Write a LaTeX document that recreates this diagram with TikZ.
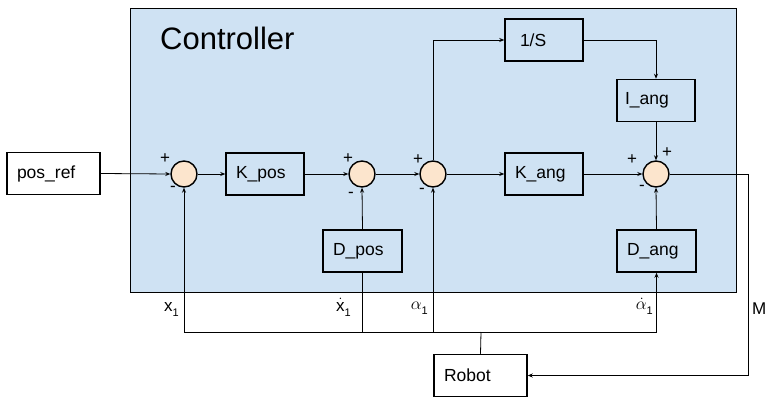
\documentclass[tikz,border=0pt]{standalone}
\usepackage{fontspec}
\setmainfont{Liberation Sans}
\usepackage{amsmath}
\usetikzlibrary{arrows.meta}
\definecolor{ctrlblue}{HTML}{CFE2F3}
\definecolor{sumfill}{HTML}{FCE5CD}
\newcommand{\subone}{\raisebox{-5pt}{\fontsize{11}{11}\selectfont 1}}
\begin{document}
\begin{tikzpicture}[x=1pt,y=-1pt,
 blk/.style={draw, line width=1.5pt, minimum height=42pt, inner xsep=10pt, inner ysep=0pt, align=left, font=\fontsize{17.5}{20}\selectfont},
 sumc/.style={circle, draw, line width=1.4pt, fill=sumfill, minimum size=26pt, inner sep=0pt},
 conn/.style={line width=0.8pt},
 arr/.style={conn, -{Stealth[length=5pt,width=4pt]}},
 sgn/.style={font=\fontsize{17}{17}\selectfont, inner sep=0pt},
 lbl/.style={font=\fontsize{17}{20}\selectfont, inner sep=0pt}]

\useasboundingbox (0,0) rectangle (765,401);
\node[draw, line width=0.8pt, fill=ctrlblue, minimum width=606pt, minimum height=284pt, inner sep=0pt] (ctrl) at (433,150) {};
\node[anchor=base west, inner sep=0pt, font=\fontsize{31}{34}\selectfont] (title) at (160,50) {Controller};

\node[blk, fill=white, text width=73pt] (posref) at (53.5,173.5) {pos\_ref};
\node[sumc] (s1) at (184,174) {};
\node[blk, text width=58pt] (kpos) at (265,174) {K\_pos};
\node[sumc] (s2) at (362,174) {};
\node[sumc] (s3) at (433,174) {};
\node[blk, text width=58pt] (kang) at (544,174) {K\_ang};
\node[sumc] (s4) at (656,174) {};
\node[blk, text width=48pt, inner xsep=15pt] (inv) at (544,40) {1/S};
\node[blk, text width=62pt, inner xsep=8pt] (iang) at (656,100.5) {I\_ang};
\node[blk, text width=59pt] (dpos) at (362.5,251) {D\_pos};
\node[blk, text width=59pt] (dang) at (656.5,251) {D\_ang};
\node[blk, fill=white, text width=73pt] (robot) at (480.5,375.5) {Robot};

% signs
\node[sgn] (p1) at (165,159) {+};
\node[sgn] (m1) at (173,189) {-};
\node[sgn] (p2) at (348,159) {+};
\node[sgn] (m2) at (351,195) {-};
\node[sgn] (p3) at (418,160) {+};
\node[sgn] (m3) at (422,191) {-};
\node[sgn] (p4) at (632,160) {+};
\node[sgn] (p4b) at (667,153) {+};
\node[sgn] (m4) at (642,188) {-};

% forward path
\draw[arr] (posref.east) -- (s1.west);
\draw[arr] (s1.east) -- (kpos.west);
\draw[arr] (kpos.east) -- (s2.west);
\draw[arr] (s2.east) -- (s3.west);
\draw[arr] (s3.east) -- (kang.west);
\draw[arr] (kang.east) -- (s4.west);
\draw[arr] (dpos.north) -- (s2.south);
\draw[arr] (dang.north) -- (s4.south);
\draw[arr] (iang.south) -- (s4.north);
\draw[arr] (inv.east) -| (iang.north);
\draw[arr] (s3.north) |- (inv.west);

% output to robot
\coordinate (mc) at (748,174);
\draw[arr] (s4.east) -- (mc) |- (robot.east);
\node[lbl, anchor=base west] (mlbl) at (752,314) {M};

% feedback
\coordinate (fb) at (481,332);
\draw[conn] (robot.north) -- (fb);
\draw[arr] (fb) -| (s1.south);
\draw[conn] (dpos.south) -- (dpos.south |- fb);
\draw[arr] (fb) -| (s3.south);
\draw[arr] (fb) -| (dang.south);

\node[lbl, anchor=base east] (x1) at (179,311) {x\subone};
\node[lbl, anchor=base east] (xd1) at (351,311) {$\dot{\text{x}}$\subone};
\node[lbl, anchor=base east] (a1) at (428,309) {$\alpha$\subone};
\node[lbl, anchor=base east] (ad1) at (653,309) {$\dot{\alpha}$\subone};
\end{tikzpicture}
\end{document}
